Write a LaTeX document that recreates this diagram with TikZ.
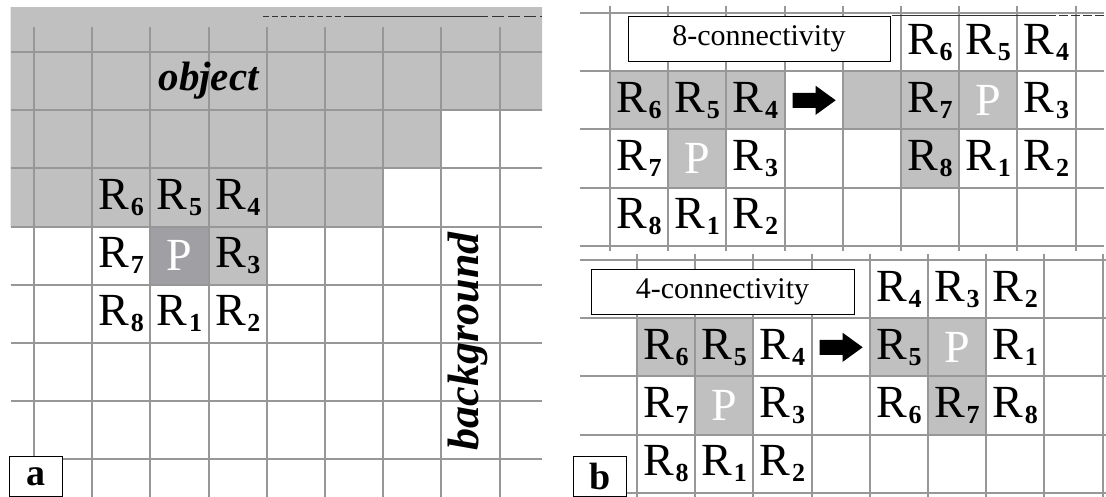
\documentclass[tikz,border=0pt]{standalone}
\usepackage{fontspec}
\setmainfont{Liberation Serif}

\definecolor{gridgrey}{HTML}{979797}
\definecolor{objgrey}{HTML}{C0C0C0}
\definecolor{pgrey}{HTML}{A0A0A4}

% R with its index, and the centre pixel P
\newcommand\rlab[1]{{\fontsize{46}{46}\selectfont R}\kern1.5pt\raisebox{-6pt}{\fontsize{26}{26}\selectfont\bfseries #1}}
\newcommand\plab{\textcolor{white}{\fontsize{46}{46}\selectfont P}}

\tikzset{
  gline/.style={gridgrey, line width=2pt},
  lab/.style={inner sep=0pt},
  hdbox/.style={draw, line width=0.9pt, fill=white, inner sep=0pt, minimum height=45pt, font=\fontsize{30}{30}\selectfont},
  tagbox/.style={draw, line width=0.9pt, fill=white, anchor=north west, minimum width=53pt, minimum height=40pt, inner sep=0pt, font=\fontsize{38}{38}\selectfont\bfseries},
  scratch/.style={black!80, line width=1pt}
}
% thick block arrow around a named point
\newcommand\blockarrow[1]{\fill (#1) ++(-21pt,7.5pt) -- ++(23pt,0) -- ++(0,7pt) -- ++(20pt,-14.5pt)
  -- ++(-20pt,-14.5pt) -- ++(0,7pt) -- ++(-23pt,0) -- cycle;}

\begin{document}
\begin{tikzpicture}[x=1pt, y=-1pt]
\useasboundingbox (0,0) rectangle (1106,497);
\fill[white] (0,0) rectangle (1106,497);

%% (a) object and background
\begin{scope}[shift={(34,52)}, x=58.2pt, y=-58.2pt]
  \fill[objgrey] (-0.4,-0.77) -| (8.73,1) -| (7,2) -| (6,3) -| cycle;
  \fill[pgrey] (2,3) rectangle (3,4);
  \fill[objgrey] (3,3) rectangle (4,4);
  \foreach \j in {0,...,7} \draw[gline] (-0.4,\j) -- (8.73,\j);
  \foreach \i in {0,...,8} \draw[gline] (\i,-0.43) -- (\i,7.7);
  \foreach \c/\r/\n in {1/2/6, 2/2/5, 3/2/4, 1/3/7, 3/3/3, 1/4/8, 2/4/1, 3/4/2}
    \node[lab] (r\n) at (\c+0.5,\r+0.5) {\rlab{\n}};
  \node[lab] (p) at (2.5,3.5) {\plab};
  \node[lab, font=\fontsize{41}{41}\selectfont\bfseries\itshape] (obj) at (3,0.5) {object};
  \node[lab, rotate=90, font=\fontsize{44}{44}\selectfont\bfseries\itshape] (bg) at (7.45,4.97) {background};
\end{scope}
\draw[scratch, dash pattern=on 6pt off 3pt] (263,17) -- (345,17);
\draw[scratch] (345,17) -- (476,17);
\draw[scratch, dash pattern=on 12pt off 4pt] (476,17) -- (542,17);
\node[tagbox] (taga) at (9,456) {a};

%% (b) 8-connectivity
\begin{scope}[shift={(610,13)}, x=58.2pt, y=-58.2pt]
  \foreach \c/\r in {0/1, 1/1, 2/1, 4/1, 5/1, 6/1, 1/2, 5/2}
    \fill[objgrey] (\c,\r) rectangle +(1,1);
  \foreach \j in {0,...,4} \draw[gline] (-0.52,\j) -- (8.48,\j);
  \foreach \i in {0,...,8} \draw[gline] (\i,-0.12) -- (\i,4.09);
  \foreach \c/\r/\n in {0/1/6, 1/1/5, 2/1/4, 0/2/7, 2/2/3, 0/3/8, 1/3/1, 2/3/2}
    \node[lab] (s8r\n) at (\c+0.5,\r+0.5) {\rlab{\n}};
  \node[lab] (s8p) at (1.5,2.5) {\plab};
  \foreach \c/\r/\n in {5/0/6, 6/0/5, 7/0/4, 5/1/7, 7/1/3, 5/2/8, 6/2/1, 7/2/2}
    \node[lab] (t8r\n) at (\c+0.5,\r+0.5) {\rlab{\n}};
  \node[lab] (t8p) at (6.5,1.5) {\plab};
  \coordinate (go8) at (3.5,1.5);
  \blockarrow{go8}
  \node[hdbox, minimum width=262pt] (hd8) at (2.56,0.45) {8-connectivity};
\end{scope}
\draw[scratch] (892,16) -- (1047,16);
\draw[scratch, dash pattern=on 9pt off 3pt] (1047,16) -- (1106,16);

%% (b) 4-connectivity
\begin{scope}[shift={(637,260)}, x=58.2pt, y=-58.2pt]
  \foreach \c/\r in {0/1, 1/1, 4/1, 5/1, 1/2, 5/2}
    \fill[objgrey] (\c,\r) rectangle +(1,1);
  \foreach \j in {0,...,4} \draw[gline] (-0.98,\j) -- (8.06,\j);
  \foreach \i in {0,...,8} \draw[gline] (\i,-0.1) -- (\i,4.07);
  \foreach \c/\r/\n in {0/1/6, 1/1/5, 2/1/4, 0/2/7, 2/2/3, 0/3/8, 1/3/1, 2/3/2}
    \node[lab] (s4r\n) at (\c+0.5,\r+0.5) {\rlab{\n}};
  \node[lab] (s4p) at (1.5,2.5) {\plab};
  \foreach \c/\r/\n in {4/0/4, 5/0/3, 6/0/2, 4/1/5, 6/1/1, 4/2/6, 5/2/7, 6/2/8}
    \node[lab] (t4r\n) at (\c+0.5,\r+0.5) {\rlab{\n}};
  \node[lab] (t4p) at (5.5,1.5) {\plab};
  \coordinate (go4) at (3.5,1.5);
  \blockarrow{go4}
\end{scope}
\node[hdbox, minimum width=263pt] (hd4) at (722.5,291.5) {4-connectivity};
\node[tagbox] (tagb) at (573,456) {b};
\end{tikzpicture}
\end{document}
